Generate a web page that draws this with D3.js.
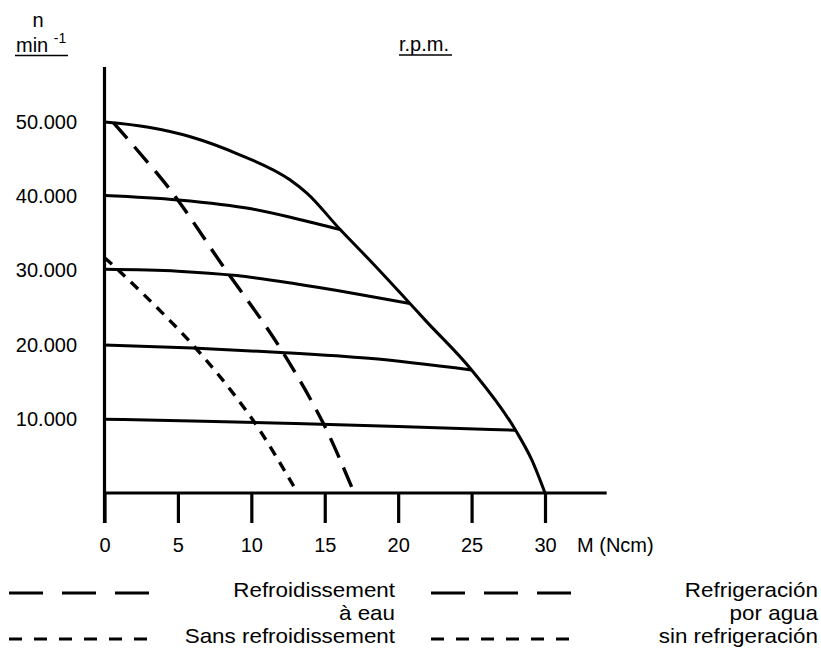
<!DOCTYPE html>
<html>
<head>
<meta charset="utf-8">
<script src="https://cdn.jsdelivr.net/npm/d3@7"></script>
<style>
  html, body { margin: 0; padding: 0; background: #fff; }
  svg { display: block; font-family: "Liberation Sans", Arial, Helvetica, sans-serif; }
</style>
</head>
<body>
<svg id="chart" width="821" height="648"></svg>
<script>
// ---------- DATA ----------
const xTicks = [0, 5, 10, 15, 20, 25, 30];
const xTickLabels = ["0", "5", "10", "15", "20", "25", "30"];
const yTicks = [10000, 20000, 30000, 40000, 50000];
const yTickLabels = ["10.000", "20.000", "30.000", "40.000", "50.000"];

// Envelope (max torque curve), [M (Ncm), n (rpm)]
const envelope = [[0,50000],[3,49300],[5.85,48020],[9.25,45550],[12.65,42180],[13.8,40390],
  [16.05,35500],[18.1,31300],[20.8,25550],[21.84,23300],[25,16580],[28,8450],[29.1,4450],[30,0]];
// Speed curves
const curve40 = [[0,40100],[5,39500],[10,38300],[13,37000],[16.05,35500]];
const curve30 = [[0,30150],[5,29900],[9,29300],[13,28200],[17,26900],[20.8,25550]];
const curve20 = [[0,19950],[6,19550],[12,18950],[18,18150],[25,16580]];
const curve10 = [[0,9950],[6,9720],[13,9350],[20,8950],[28,8450]];
// Water cooled limit (long dash)
const waterCooled = [[0.6,49900],[4.5,40800],[8.1,30500],[11.75,20200],[14.9,9400],[17,0]];
// Without cooling limit (short dash)
const noCooling = [[0,31700],[1.06,29830],[6.16,19640],[10.14,9740],[13.15,0]];

const legendFr = [["Refroidissement", "à eau"], ["Sans refroidissement"]];
const legendEs = [["Refrigeración", "por agua"], ["sin refrigeración"]];

// ---------- LAYOUT ----------
const svg = d3.select("#chart");
const x = d3.scaleLinear().domain([0, 30]).range([104.5, 545]);
const y = d3.scaleLinear().domain([0, 50000]).range([493, 122]);
const xAxisEnd = 34.2;     // axis line extends beyond 30
const yAxisTop = 57400;    // axis line extends above 50.000
const ink = "#000";

// Y axis line (extends below x axis like a tick)
svg.append("line")
  .attr("x1", x(0)).attr("x2", x(0))
  .attr("y1", y(yAxisTop)).attr("y2", 523)
  .attr("stroke", ink).attr("stroke-width", 3.2);

// X axis line
svg.append("line")
  .attr("x1", x(0)).attr("x2", x(xAxisEnd))
  .attr("y1", y(0)).attr("y2", y(0))
  .attr("stroke", ink).attr("stroke-width", 3);

// X axis ticks and labels
const xAxis = d3.axisBottom(x).tickValues(xTicks)
  .tickFormat((d, i) => xTickLabels[i]).tickSize(30).tickSizeOuter(0);
const gx = svg.append("g").attr("transform", `translate(0,${y(0)})`).call(xAxis);
gx.select(".domain").remove();
gx.selectAll(".tick line").attr("stroke", ink).attr("stroke-width", 3.2);
gx.selectAll(".tick text").attr("y", 59).attr("dy", 0)
  .attr("font-size", 20).attr("fill", ink)
  .attr("font-family", "'Liberation Sans', Arial, sans-serif");

svg.append("text").attr("x", 577).attr("y", 552)
  .attr("font-size", 20).attr("fill", ink).text("M (Ncm)");

// Y axis labels
const yAxis = d3.axisLeft(y).tickValues(yTicks)
  .tickFormat((d, i) => yTickLabels[i]).tickSize(0).tickPadding(27.5);
const gy = svg.append("g").attr("transform", `translate(${x(0)},0)`).call(yAxis);
gy.select(".domain").remove();
gy.selectAll(".tick text").attr("font-size", 20).attr("fill", ink)
  .attr("font-family", "'Liberation Sans', Arial, sans-serif");

// Axis title (n / min^-1) and r.p.m.
svg.append("text").attr("x", 38).attr("y", 27).attr("text-anchor", "middle")
  .attr("font-size", 20).attr("fill", ink).text("n");
const minT = svg.append("text").attr("x", 16).attr("y", 52).attr("font-size", 20).attr("fill", ink);
minT.append("tspan").text("min ");
minT.append("tspan").attr("font-size", 14).attr("dy", -9).text("-1");
svg.append("line").attr("x1", 15).attr("x2", 68).attr("y1", 55.5).attr("y2", 55.5)
  .attr("stroke", ink).attr("stroke-width", 1.4);

svg.append("text").attr("x", 399).attr("y", 51).attr("font-size", 20).attr("fill", ink).text("r.p.m.");
svg.append("line").attr("x1", 399).attr("x2", 452).attr("y1", 55).attr("y2", 55)
  .attr("stroke", ink).attr("stroke-width", 1.4);

// ---------- CURVES ----------
const line = d3.line().x(d => x(d[0])).y(d => y(d[1])).curve(d3.curveMonotoneX);
const lineC = d3.line().x(d => x(d[0])).y(d => y(d[1])).curve(d3.curveCatmullRom.alpha(0.5));

[curve40, curve30, curve20, curve10].forEach(c => {
  svg.append("path").attr("d", line(c)).attr("fill", "none")
    .attr("stroke", ink).attr("stroke-width", 3);
});
svg.append("path").attr("d", line(envelope)).attr("fill", "none")
  .attr("stroke", ink).attr("stroke-width", 3).attr("stroke-linejoin", "round");

svg.append("path").attr("d", lineC(waterCooled)).attr("fill", "none")
  .attr("stroke", ink).attr("stroke-width", 3.4).attr("stroke-dasharray", "21,11");
svg.append("path").attr("d", lineC(noCooling)).attr("fill", "none")
  .attr("stroke", ink).attr("stroke-width", 3.4).attr("stroke-dasharray", "10,8");

// ---------- LEGEND ----------
const legendCols = [{x0: 9, x1: 149, textX: 395, labels: legendFr},
                    {x0: 431, x1: 572, textX: 818, labels: legendEs}];
const legendRows = [{y: 593, dash: "34,19", baselines: [597, 620]},
                    {y: 639, dash: "13,12", baselines: [643]}];
legendCols.forEach(col => {
  legendRows.forEach((row, ri) => {
    svg.append("line").attr("x1", col.x0).attr("x2", col.x1)
      .attr("y1", row.y).attr("y2", row.y)
      .attr("stroke", ink).attr("stroke-width", 2.8).attr("stroke-dasharray", row.dash);
    col.labels[ri].forEach((t, k) => {
      svg.append("g").attr("transform", `translate(${col.textX},${row.baselines[k]}) scale(1.12,1)`)
        .append("text").attr("x", 0).attr("y", 0)
        .attr("text-anchor", "end").attr("font-size", 20).attr("fill", ink).text(t);
    });
  });
});
</script>
</body>
</html>
